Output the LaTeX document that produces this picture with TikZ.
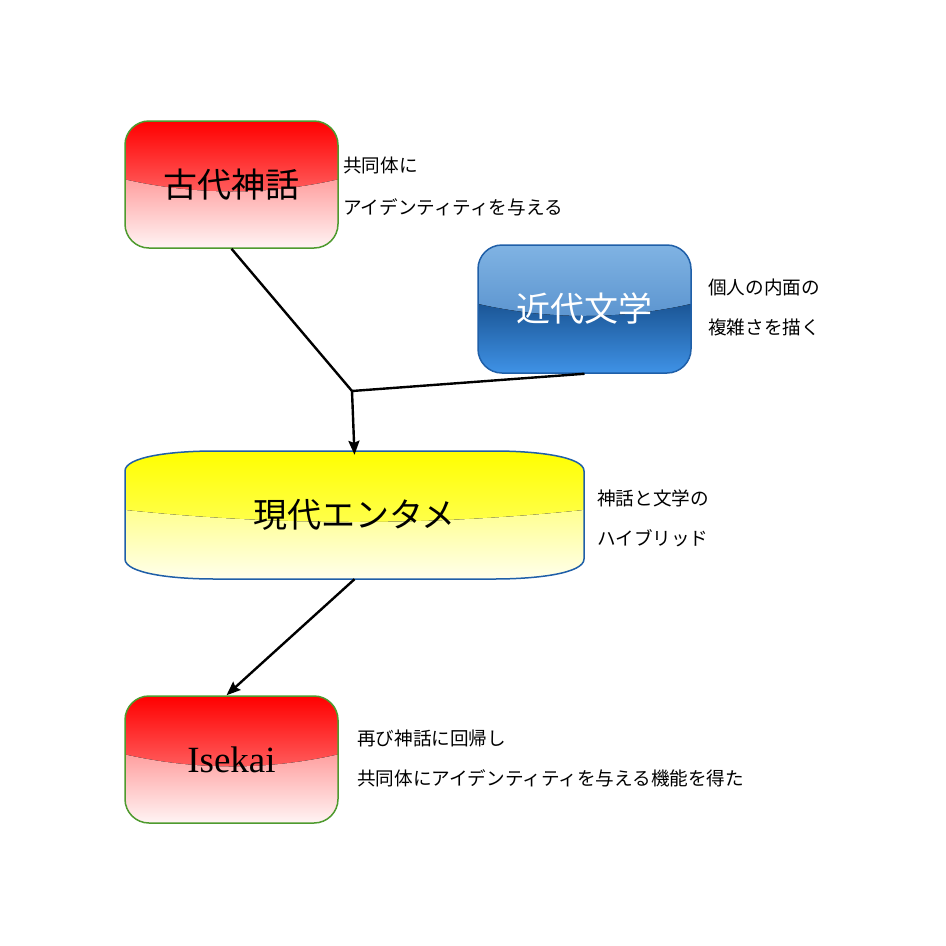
\documentclass[tikz,border=0pt]{standalone}
\usepackage{fontspec}
\newfontfamily\jp{Noto Sans CJK JP}
\newfontfamily\isefont{Liberation Serif}
\usetikzlibrary{calc,arrows.meta}
\definecolor{redtop}{HTML}{FF0000}
\definecolor{redmid}{HTML}{FF8A8A}
\definecolor{redlow}{HTML}{FFA0A0}
\definecolor{redbot}{HTML}{FFF4F4}
\definecolor{bluetop}{HTML}{80B3E3}
\definecolor{bluemid}{HTML}{4A86C6}
\definecolor{bluelow}{HTML}{1B5696}
\definecolor{bluebot}{HTML}{3F92E6}
\definecolor{yeltop}{HTML}{FFFF00}
\definecolor{yelmid}{HTML}{FFFF70}
\definecolor{yellow2}{HTML}{FFFF90}
\definecolor{yelbot}{HTML}{FFFFEC}
\definecolor{greenline}{HTML}{4E9A2E}
\definecolor{blueline}{HTML}{1F5FA8}
\tikzset{
  glossy/.style n args={4}{path picture={
    \fill[sharp corners, top color=#1, bottom color=#2, middle color=#1!40!#2]
      (path picture bounding box.north west) -- (path picture bounding box.north east)
      -- ($(path picture bounding box.east)+(0,-5)$)
      .. controls ($(path picture bounding box.east)!0.333!(path picture bounding box.west)+(0,11)$)
      and ($(path picture bounding box.east)!0.667!(path picture bounding box.west)+(0,11)$)
      .. ($(path picture bounding box.west)+(0,-5)$) -- cycle;
    \fill[sharp corners, top color=#3,bottom color=#4]
      ($(path picture bounding box.west)+(0,-5)$)
      .. controls ($(path picture bounding box.east)!0.667!(path picture bounding box.west)+(0,11)$)
      and ($(path picture bounding box.east)!0.333!(path picture bounding box.west)+(0,11)$)
      .. ($(path picture bounding box.east)+(0,-5)$)
      -- (path picture bounding box.south east) -- (path picture bounding box.south west) -- cycle;
  }},
  redbox/.style={rectangle, rounded corners=24pt, draw=greenline, line width=1.5pt,
    minimum width=213pt, minimum height=127pt, inner sep=0pt,
    glossy={redtop}{redmid}{redlow}{redbot}},
  bluebox/.style={rectangle, rounded corners=24pt, draw=blueline, line width=1.5pt,
    minimum width=213pt, minimum height=128pt, inner sep=0pt,
    glossy={bluetop}{bluemid}{bluelow}{bluebot}},
  lbl/.style={font=\jp\fontsize{34}{36}\selectfont},
  side/.style={anchor=west, inner sep=0pt, font=\jp\fontsize{18.6}{19}\selectfont},
  conn/.style={line width=2.4pt, black},
  arr/.style={conn, -{Stealth[length=14pt,width=11pt,inset=2pt]}}
}
\begin{document}
\begin{tikzpicture}[x=1pt,y=-1pt]
\path[use as bounding box, fill=white] (0,0) rectangle (946,946);

\node[redbox, lbl] (a) at (231.5,184.5) {古代神話};
\node[bluebox, lbl, text=white] (b) at (584.5,309) {近代文学};

\draw[draw=blueline, line width=1.5pt, glossy={yeltop}{yelmid}{yellow2}{yelbot}]
  (125,471) .. controls (125,457) and (170,451) .. (215,451) -- (494,451)
  .. controls (539,451) and (584,457) .. (584,471) -- (584,559)
  .. controls (584,573) and (539,579) .. (494,579) -- (215,579)
  .. controls (170,579) and (125,573) .. (125,559) -- cycle;
\node[lbl, minimum width=459pt, minimum height=128pt, inner sep=0pt] (c) at (354.5,515) {現代エンタメ};

\node[redbox, font=\isefont\fontsize{37}{40}\selectfont] (d) at (231.5,759.5) {Isekai};

\node[side] (t1) at (343,165) {共同体に};
\node[side] (t2) at (343,207) {アイデンティティを与える};
\node[side] (t3) at (708,287) {個人の内面の};
\node[side] (t4) at (708,327) {複雑さを描く};
\node[side] (t5) at (597,498) {神話と文学の};
\node[side] (t6) at (597,538) {ハイブリッド};
\node[side] (t7) at (357,738) {再び神話に回帰し};
\node[side] (t8) at (357,778) {共同体にアイデンティティを与える機能を得た};

\coordinate (j) at (352,391);
\draw[conn] (a.south) -- (j);
\draw[conn] (b.south) -- (j);
\draw[arr] (j) -- ([yshift=-4pt]c.north);
\draw[arr] (c.south) -- ([xshift=-5pt]d.north);
\end{tikzpicture}
\end{document}
